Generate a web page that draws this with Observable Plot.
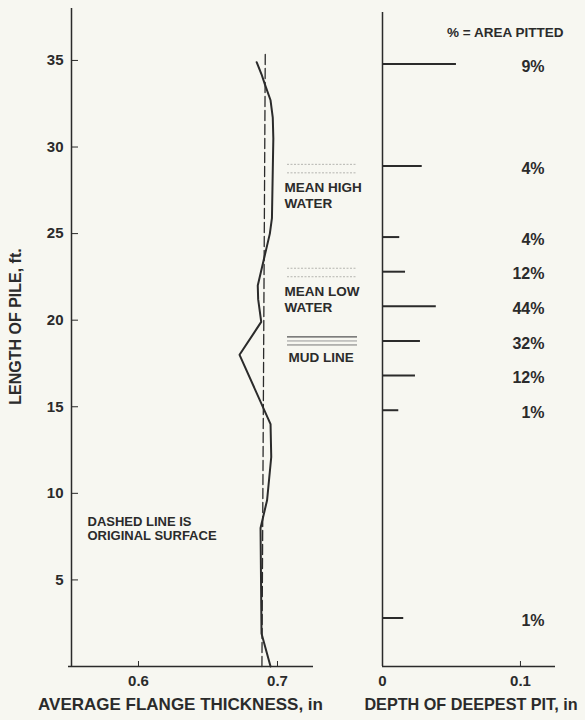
<!DOCTYPE html>
<html><head><meta charset="utf-8">
<script src="https://cdn.jsdelivr.net/npm/d3@7"></script>
<script src="https://cdn.jsdelivr.net/npm/@observablehq/plot@0.6"></script>
<style>
html,body{margin:0;padding:0;background:#f7f7f1;}
#chart{position:relative;width:585px;height:720px;}
#chart svg{position:absolute;left:0;top:0;background:transparent;overflow:visible;}
</style></head><body><div id="chart"></div>
<script>
// Average flange thickness profile (solid line)
const profileLength = [34.9, 34.2, 33.6, 32.7, 31.7, 30.5, 25.9, 25.0, 22.0, 21.2, 19.9, 18.0, 14.0, 12.1, 9.6, 8.0, 1.9, 0];
const profileThickness = [0.685, 0.6885, 0.691, 0.695, 0.6966, 0.697, 0.696, 0.6945, 0.6858, 0.6861, 0.6883, 0.6727, 0.695, 0.6955, 0.6925, 0.6878, 0.6885, 0.695];
// Original surface (dashed line)
const originalLength = [0, 35.4];
const originalThickness = [0.6888, 0.6912];
// Deepest pits
const pitLength = [34.8, 28.9, 24.8, 22.8, 20.8, 18.8, 16.8, 14.8, 2.8];
const pitDepth = [0.0536, 0.0288, 0.0125, 0.0167, 0.039, 0.0275, 0.0239, 0.0118, 0.0154];
const areaPitted = ["9%", "4%", "4%", "12%", "44%", "32%", "12%", "1%", "1%"];
// Water / mud levels
const waterNames = ["MEAN HIGH\nWATER", "MEAN LOW\nWATER"];
const waterLevels = [29.0, 23.0];
const mudNames = ["MUD LINE"];
const mudLevels = [18.8];
// Scales / ticks
const lengthTicks = [5, 10, 15, 20, 25, 30, 35];
const thicknessTicks = [0.6, 0.7];
const depthTicks = [0, 0.1];
const lengthDomain = [0, 38];
const thicknessDomain = [0.5518, 0.7259];
const depthDomain = [0, 0.1254];

const ink = "#2b2b2b";
const font = {fontFamily: "'Liberation Sans', Arial, Helvetica, sans-serif", fontWeight: "bold", color: ink, background: "transparent", overflow: "visible"};
const W = 585, H = 720;

const left = Plot.plot({
  width: W, height: H,
  marginLeft: 71, marginRight: 272, marginTop: 8, marginBottom: 54,
  style: {...font, fontSize: "15px"},
  x: {domain: thicknessDomain},
  y: {domain: lengthDomain},
  marks: [
    Plot.ruleX([thicknessDomain[0]], {stroke: ink, strokeWidth: 1.5}),
    Plot.ruleY([0], {stroke: ink, strokeWidth: 1.5, insetLeft: -3}),
    Plot.axisY({ticks: lengthTicks, tickSize: -7, tickPadding: 15, fontSize: 15, label: null}),
    Plot.axisX({ticks: thicknessTicks, tickSize: -5, tickPadding: 14, fontSize: 15, tickFormat: d => String(d), label: null}),
    Plot.line(originalLength, {x: originalThickness, y: originalLength, stroke: ink, strokeWidth: 1.3, strokeDasharray: "10,4"}),
    Plot.line(profileLength, {x: profileThickness, y: profileLength, stroke: ink, strokeWidth: 2, curve: "linear", strokeLinejoin: "round"}),
    // water level wave marks
    Plot.ruleY(waterLevels, {y: d => d, insetLeft: 216, insetRight: -44, stroke: "#b5b5b0", strokeWidth: 1, strokeDasharray: "2,1.5"}),
    Plot.ruleY(waterLevels, {y: d => d, dy: 8.5, insetLeft: 216, insetRight: -44, stroke: "#b5b5b0", strokeWidth: 1, strokeDasharray: "2,1.5"}),
    Plot.text(waterLevels, {y: d => d, text: (d, i) => waterNames[i], frameAnchor: "left", dx: 213, dy: 17, textAnchor: "start", lineAnchor: "top", fontSize: 13.5, lineHeight: 1.16, fill: ink}),
    // mud line
    Plot.ruleY(mudLevels, {y: d => d, dy: -4, insetLeft: 216, insetRight: -44, stroke: "#555", strokeWidth: 1.2}),
    Plot.ruleY(mudLevels, {y: d => d, insetLeft: 216, insetRight: -44, stroke: "#999", strokeWidth: 1}),
    Plot.ruleY(mudLevels, {y: d => d, dy: 4, insetLeft: 216, insetRight: -44, stroke: "#777", strokeWidth: 1}),
    Plot.text(mudLevels, {y: d => d, text: (d, i) => mudNames[i], frameAnchor: "left", dx: 217, dy: 11, textAnchor: "start", lineAnchor: "top", fontSize: 13.5, fill: ink}),
    // notes and titles
    Plot.text(["DASHED LINE IS\nORIGINAL SURFACE"], {frameAnchor: "bottom-left", dx: 16, dy: -150, textAnchor: "start", lineAnchor: "top", fontSize: 13, lineHeight: 1.05, fill: ink}),
    Plot.text(["LENGTH OF PILE, ft."], {frameAnchor: "left", rotate: -90, dx: -56, dy: -11, textAnchor: "middle", fontSize: 16, fill: ink}),
    Plot.text(["AVERAGE FLANGE THICKNESS, in"], {frameAnchor: "bottom", dx: -12, dy: 43, textAnchor: "middle", fontSize: 17, fill: ink})
  ]
});

const right = Plot.plot({
  width: W, height: H,
  marginLeft: 382, marginRight: 30, marginTop: 8, marginBottom: 54,
  style: {...font, fontSize: "15px"},
  x: {domain: depthDomain},
  y: {domain: lengthDomain, axis: null},
  marks: [
    Plot.ruleX([0], {stroke: ink, strokeWidth: 1.5, insetTop: 4}),
    Plot.ruleY([0], {stroke: ink, strokeWidth: 1.5}),
    Plot.axisX({ticks: depthTicks, tickSize: -5, tickPadding: 14, fontSize: 15, tickFormat: d => String(d), label: null}),
    Plot.ruleY(pitLength, {y: d => d, x1: 0, x2: (d, i) => pitDepth[i], stroke: ink, strokeWidth: 2}),
    Plot.text(pitLength, {y: d => d, text: (d, i) => areaPitted[i], frameAnchor: "right", dx: -11, dy: 2.5, textAnchor: "end", fontSize: 16, fill: ink}),
    Plot.text(["% = AREA PITTED"], {frameAnchor: "top-right", dx: 8, dy: 19, textAnchor: "end", fontSize: 13.5, fill: ink}),
    Plot.text(["DEPTH OF DEEPEST PIT, in"], {frameAnchor: "bottom", dx: 2, dy: 43, textAnchor: "middle", fontSize: 16.2, fill: ink})
  ]
});

const chart = document.getElementById("chart");
chart.appendChild(left);
chart.appendChild(right);
</script></body></html>
